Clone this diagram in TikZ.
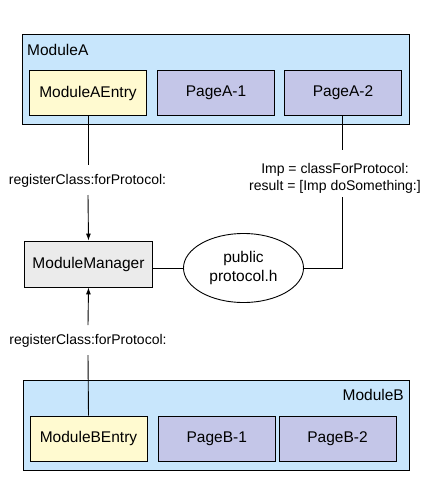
\documentclass[tikz,border=0pt]{standalone}
\usepackage{fontspec}
\setmainfont{Liberation Sans}
\usetikzlibrary{arrows.meta,shapes.geometric}
\definecolor{modfill}{RGB}{200,230,252}
\definecolor{pagefill}{RGB}{196,198,232}
\definecolor{entryfill}{RGB}{255,250,208}
\definecolor{mgrfill}{RGB}{235,235,235}
\tikzset{
  base/.style={draw=black, line width=0.9pt, inner sep=0pt, font=\fontsize{15.5}{19}\selectfont},
  modbox/.style={base, fill=modfill, minimum width=386.5, minimum height=90.5},
  entrybox/.style={base, fill=entryfill, minimum width=117, minimum height=45},
  pagebox/.style={base, fill=pagefill, minimum width=117, minimum height=45},
  mgrbox/.style={base, fill=mgrfill, minimum width=128, minimum height=46},
  protoell/.style={base, ellipse, fill=white, minimum width=120, minimum height=69, align=center},
  modlabel/.style={inner sep=0pt, font=\fontsize{15.5}{19}\selectfont},
  calllabel/.style={inner sep=0pt, align=center, font=\fontsize{14}{16.5}\selectfont},
  conn/.style={line width=0.9pt},
  arr/.style={conn, -{Latex[length=7pt,width=5pt]}}
}
\begin{document}
\begin{tikzpicture}[x=1pt,y=-1pt]
\useasboundingbox (0,0) rectangle (432,504);
% Module A
\node[modbox] (ma) at (215.75,79.25) {};
\node[modlabel, anchor=west] (malabel) at (27,49.5) {ModuleA};
\node[entrybox] (ae) at (88,93) {ModuleAEntry};
\node[pagebox] (pa1) at (216,93) {PageA-1};
\node[pagebox] (pa2) at (343,93) {PageA-2};
% Manager and protocol
\node[mgrbox] (mm) at (88.5,264) {ModuleManager};
\node[protoell] (pp) at (243.5,268) {public\\protocol.h};
% Module B
\node[modbox] (mb) at (216.5,425.5) {};
\node[modlabel, anchor=east] (mblabel) at (404,394.5) {ModuleB};
\node[entrybox] (be) at (88.5,438.5) {ModuleBEntry};
\node[pagebox] (pb1) at (216.75,438.5) {PageB-1};
\node[pagebox] (pb2) at (337.5,438.5) {PageB-2};
% labels
\node[calllabel] (la) at (87.5,180.5) {registerClass:forProtocol:};
\node[calllabel] (lb) at (88,340.5) {registerClass:forProtocol:};
\node[calllabel] (lc) at (335,178.5) {Imp = classForProtocol:\\result = [Imp doSomething:]};
% coordinates for gaps
\coordinate (a1) at (88,165);
\coordinate (a2) at (88,195);
\coordinate (b1) at (88,325);
\coordinate (b2) at (88,355);
\coordinate (c1) at (342,150);
\coordinate (c2) at (342,197);
\coordinate (c3) at (342,115.5);
% connectors
\draw[conn] (ae.south) -- (a1);
\draw[arr] (a2) -- (mm.north);
\draw[conn] (be.north) -- (b2);
\draw[arr] (b1) -- (mm.south);
\draw[conn] (mm.east |- pp.west) -- (pp.west);
\draw[conn] (c3) -- (c1);
\draw[conn] (c2) |- (pp.east);
\end{tikzpicture}
\end{document}
